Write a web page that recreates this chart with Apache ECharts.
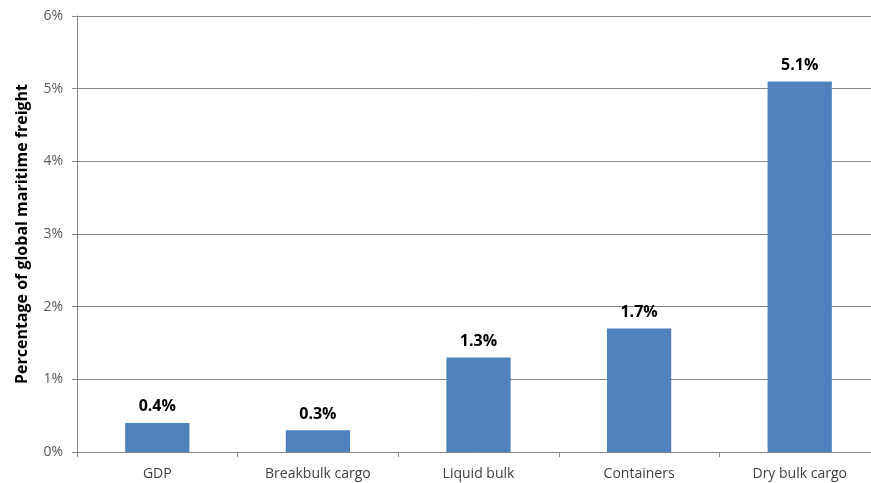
<!DOCTYPE html>
<html>
<head>
<meta charset="utf-8">
<script src="https://cdn.jsdelivr.net/npm/echarts@6/dist/echarts.min.js"></script>
<style>
html,body{margin:0;padding:0;background:#fff;overflow:hidden;}
#chart{width:871px;height:483px;}
</style>
</head>
<body>
<div id="chart"></div>
<script>
// Growth in global maritime freight by cargo type
const categories = ['GDP', 'Breakbulk cargo', 'Liquid bulk', 'Containers', 'Dry bulk cargo'];
const values = [0.4, 0.3, 1.3, 1.7, 5.1];
const yTicks = [0, 1, 2, 3, 4, 5, 6];

const font = '"Open Sans", "Liberation Sans", sans-serif';
const chart = echarts.init(document.getElementById('chart'));
chart.setOption({
  animation: false,
  // plot area runs slightly past the right edge of the canvas
  grid: { left: 77, width: 803, top: 16, bottom: 31, outerBoundsMode: 'none', containLabel: false },
  xAxis: {
    type: 'category',
    data: categories,
    axisLine: { lineStyle: { color: '#868686', width: 1 } },
    axisTick: { show: true, length: 5, alignWithLabel: false, lineStyle: { color: '#868686' } },
    axisLabel: { color: '#404040', fontSize: 14, fontFamily: font, margin: 15 }
  },
  yAxis: {
    type: 'value',
    min: yTicks[0],
    max: yTicks[yTicks.length - 1],
    interval: 1,
    name: 'Percentage of global maritime freight',
    nameLocation: 'middle',
    nameGap: 47,
    nameTextStyle: { color: '#000', fontSize: 16, fontWeight: 'bold', fontFamily: font },
    axisLine: { show: true, lineStyle: { color: '#868686' } },
    axisTick: { show: true, length: 5, lineStyle: { color: '#868686' } },
    axisLabel: { color: '#595959', fontSize: 14, fontFamily: font, margin: 14, formatter: v => v + '%' },
    splitLine: { lineStyle: { color: '#868686', width: 1 } }
  },
  series: [{
    type: 'bar',
    data: values,
    barWidth: '40%',
    itemStyle: { color: '#4f81bd' },
    label: {
      show: true,
      position: 'top',
      distance: 8,
      color: '#000',
      fontSize: 16,
      fontWeight: 'bold',
      fontFamily: font,
      formatter: p => p.value.toFixed(1) + '%'
    }
  }]
});
</script>
</body>
</html>
